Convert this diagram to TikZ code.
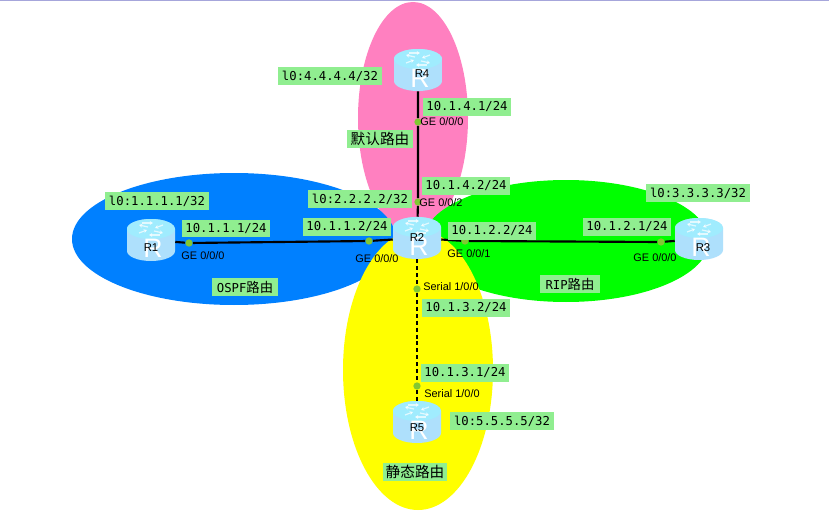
\documentclass[tikz,border=0pt]{standalone}
\usepackage{fontspec}
\setmainfont{Liberation Sans}
\newfontfamily\ipfont{DejaVu Sans Mono}
\newfontfamily\cjk{Noto Sans CJK SC}
\usetikzlibrary{arrows.meta}
\definecolor{labelgreen}{HTML}{90EE90}
\definecolor{portgreen}{HTML}{82C832}
\definecolor{areablue}{HTML}{0080FF}
\definecolor{areapink}{HTML}{FF80C0}
\definecolor{areagreen}{HTML}{00FF00}
\definecolor{areayellow}{HTML}{FFFF00}
\definecolor{routerbody}{HTML}{6CC0F8}
\definecolor{routerside}{HTML}{AEE0FC}
\definecolor{routertop}{HTML}{A0ECFE}
\tikzset{
  every picture/.style={line join=round},
  icon/.style={white,opacity=0.7,line width=0.9pt,-{Stealth[length=2.5pt,width=3pt]}},
  router/.style={inner sep=0pt,minimum width=36pt,minimum height=31.5pt,
    path picture={
      \begin{scope}[shift={(path picture bounding box.center)}]
      \clip(-24,-11)arc[start angle=180,end angle=360,x radius=24,y radius=10]
        --(24,11)arc[start angle=0,end angle=180,x radius=24,y radius=10]--cycle;
      \shade[left color=routerside,middle color=routerbody,right color=routerside](-26,-24)rectangle(26,24);
      \fill[routertop](0,-11)ellipse[x radius=24,y radius=10];
      \draw[icon](-3,-13)--(-12,-15);
      \draw[icon](-9,-17)--(2,-17);
      \draw[icon](3,-9)--(12,-7);
      \draw[icon](9,-5)--(-2,-5);
      \draw[icon](12,-15)--(4,-12);
      \draw[icon](-12,-7)--(-4,-10);
      \node[text=white,font=\fontsize{20}{20}\selectfont](glyph) at (2,8){R};
      \end{scope}
    }},
  link/.style={line width=1.6pt,black},
  seriallink/.style={link,dash pattern=on 3pt off 2.2pt},
  port/.style={circle,fill=portgreen,inner sep=0pt,minimum size=5.5pt},
  iface/.style={inner sep=0pt,font=\fontsize{8.2}{10}\selectfont},
  rname/.style={inner sep=0pt,font=\fontsize{8.5}{10}\selectfont},
  iptag/.style={fill=labelgreen,inner sep=0pt,minimum width=66pt,minimum height=13pt,
    font=\ipfont\fontsize{9.2}{11}\selectfont},
  looptag/.style={iptag,minimum width=77.5pt},
  areatag/.style={fill=labelgreen,inner sep=0pt,minimum height=13pt,
    font=\ipfont\fontsize{9.2}{11}\selectfont},
}
\begin{document}
\begin{tikzpicture}[x=0.75pt,y=-0.75pt]
\useasboundingbox(0,0)rectangle(829,517);
\fill[white](0,0)rectangle(829,517);
\draw[black!40!blue!35!white,line width=0.8pt](0,0.6)--(829,0.6);
% routing areas
\fill[areapink](413,118)ellipse[x radius=55,y radius=116];
\fill[areablue](234,239)ellipse[x radius=162,y radius=66];
\fill[areagreen](566,241)ellipse[x radius=143,y radius=61];
\fill[areayellow](418,370)ellipse[x radius=75,y radius=140];
% routers
\node[router](R1) at (151,240){};
\node[router](R2) at (417,238){};
\node[router](R3) at (699,239){};
\node[router](R4) at (418,70){};
\node[router](R5) at (417,422){};
% ports
\node[port](p1a) at (189,243){};
\node[port](p2a) at (369,241){};
\node[port](p2b) at (465,241){};
\node[port](p3a) at (661,242){};
\node[port](p4a) at (418,122){};
\node[port](p2c) at (418,202){};
\node[port](p2d) at (417,289){};
\node[port](p5a) at (417,386){};
% links
\draw[link](R1)--(p1a)--(p2a)--(R2);
\draw[link](R2)--(p2b)--(p3a)--(R3);
\draw[link](R4)--(p4a)--(p2c)--(R2);
\draw[seriallink](R2)--(p2d)--(p5a)--(R5);
% router names
\node[rname](nR1) at (151,248){R1};
\node[rname](nR2) at (417,238){R2};
\node[rname](nR3) at (703,248){R3};
\node[rname](nR4) at (422,74){R4};
\node[rname](nR5) at (417,428){R5};
% interface names
\node[iface](i1) at (203,256){GE 0/0/0};
\node[iface](i2) at (377,259){GE 0/0/0};
\node[iface](i3) at (469,254){GE 0/0/1};
\node[iface](i4) at (655,258){GE 0/0/0};
\node[iface](i5) at (442,122){GE 0/0/0};
\node[iface](i6) at (441,203){GE 0/0/2};
\node[iface](i7) at (451,287){Serial 1/0/0};
\node[iface](i8) at (452,394){Serial 1/0/0};
% addresses
\node[looptag](lo1) at (157,201){l0:1.1.1.1/32};
\node[looptag](lo2) at (360,199){l0:2.2.2.2/32};
\node[looptag](lo3) at (698,193){l0:3.3.3.3/32};
\node[looptag](lo4) at (330,76){l0:4.4.4.4/32};
\node[looptag](lo5) at (502,421){l0:5.5.5.5/32};
\node[iptag](ip1) at (226,228.5){10.1.1.1/24};
\node[iptag](ip2) at (347,227){10.1.1.2/24};
\node[iptag](ip3) at (492,231){10.1.2.2/24};
\node[iptag](ip4) at (627,227){10.1.2.1/24};
\node[iptag](ip5) at (467,107){10.1.4.1/24};
\node[iptag](ip6) at (466,186){10.1.4.2/24};
\node[iptag](ip7) at (466,308){10.1.3.2/24};
\node[iptag](ip8) at (465,373){10.1.3.1/24};
% area names
\node[areatag,minimum width=49pt](aOSPF) at (245,287){OSPF{\cjk\fontsize{10}{11}\selectfont 路由}};
\node[areatag,minimum width=45pt](aRIP) at (570,284){RIP{\cjk\fontsize{10}{11}\selectfont 路由}};
\node[areatag,minimum width=49pt,font=\cjk\fontsize{11}{12}\selectfont](aDef) at (380,139){默认路由};
\node[areatag,minimum width=48pt,font=\cjk\fontsize{11}{12}\selectfont](aStat) at (415,472){静态路由};
\end{tikzpicture}
\end{document}
